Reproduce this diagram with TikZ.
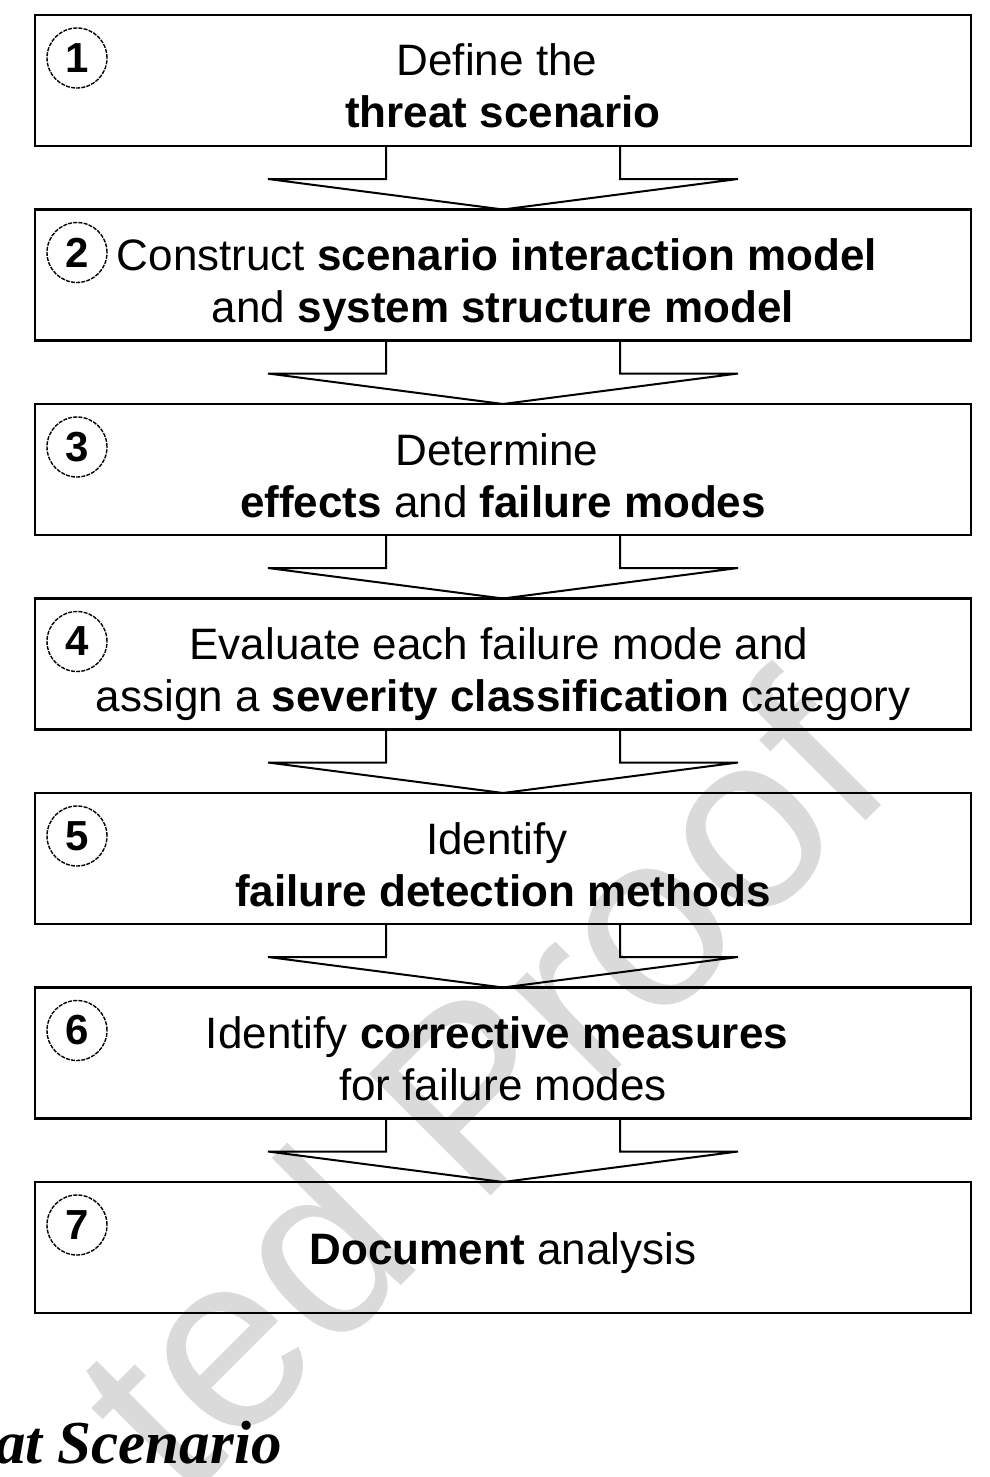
\documentclass[tikz,border=0pt]{standalone}
\usepackage{fontspec}
\setmainfont{Liberation Sans}
\newfontfamily\capserif{Liberation Serif}
\usetikzlibrary{calc}
\definecolor{wmgray}{RGB}{218,218,218}
\begin{document}
\begin{tikzpicture}[x=1pt,y=-1pt,
  box/.style={draw, rectangle, line width=2.4pt, minimum width=936pt, minimum height=131pt, inner sep=0pt, outer sep=0pt, anchor=north west},
  txt/.style={anchor=base, inner sep=0pt, font=\fontsize{44}{52}\selectfont},
  num/.style={draw, circle, line width=1.4pt, dash pattern=on 4pt off 1.2pt, minimum size=60pt, inner sep=0pt, font=\fontsize{42}{44}\selectfont\bfseries},
  arr/.style={draw, line width=2pt, line join=miter},
  wm/.style={text=wmgray, inner sep=0pt, font=\fontsize{250}{270}\selectfont}
]
\useasboundingbox (0,0) rectangle (990,1477);
\clip (0,0) rectangle (990,1477);
% watermark
\node[wm, rotate=45, anchor=base west] (wm) at (182,1505) {ted Proof};
% boxes
\foreach \i/\t in {1/15,2/209.5,3/404,4/598.5,5/793,6/987.5,7/1182}{
  \node[box] (b\i) at (35,\t) {};
  \node[num] (n\i) at (77,\t+43) {\i};
}
% texts
\node[txt] (t1a) at ($(b1.north)+(-6,61)$) {Define the};
\node[txt] (t1b) at ($(b1.north)+(0,113)$) {\bfseries threat scenario};
\node[txt] (t2a) at ($(b2.north)+(-6,61)$) {Construct \textbf{scenario interaction model}};
\node[txt] (t2b) at ($(b2.north)+(0,113)$) {and \textbf{system structure model}};
\node[txt] (t3a) at ($(b3.north)+(-6,61)$) {Determine};
\node[txt] (t3b) at ($(b3.north)+(0,113)$) {\textbf{effects} and \textbf{failure modes}};
\node[txt] (t4a) at ($(b4.north)+(-4,61)$) {Evaluate each failure mode and};
\node[txt] (t4b) at ($(b4.north)+(0,113)$) {assign a \textbf{severity classification} category};
\node[txt] (t5a) at ($(b5.north)+(-6,61)$) {Identify};
\node[txt] (t5b) at ($(b5.north)+(0,113)$) {\bfseries failure detection methods};
\node[txt] (t6a) at ($(b6.north)+(-6,61)$) {Identify \textbf{corrective measures}};
\node[txt] (t6b) at ($(b6.north)+(0,113)$) {for failure modes};
\node[txt] (t7a) at ($(b7.north)+(0,82)$) {\textbf{Document} analysis};
% arrows
\foreach \i [evaluate=\i as \j using int(\i+1)] in {1,...,6}{
  \draw[arr] ($(b\i.south)+(-117,0)$) -- ($(b\i.south)+(-117,33)$) -- ($(b\i.south)+(-235,33)$)
     -- (b\j.north) -- ($(b\i.south)+(235,33)$) -- ($(b\i.south)+(117,33)$) -- ($(b\i.south)+(117,0)$);
}
% caption fragment
\node[anchor=base west, inner sep=0pt, font=\capserif\bfseries\itshape\fontsize{61}{63}\selectfont] (cap) at (-5,1463) {at Scenario};
\end{tikzpicture}
\end{document}
